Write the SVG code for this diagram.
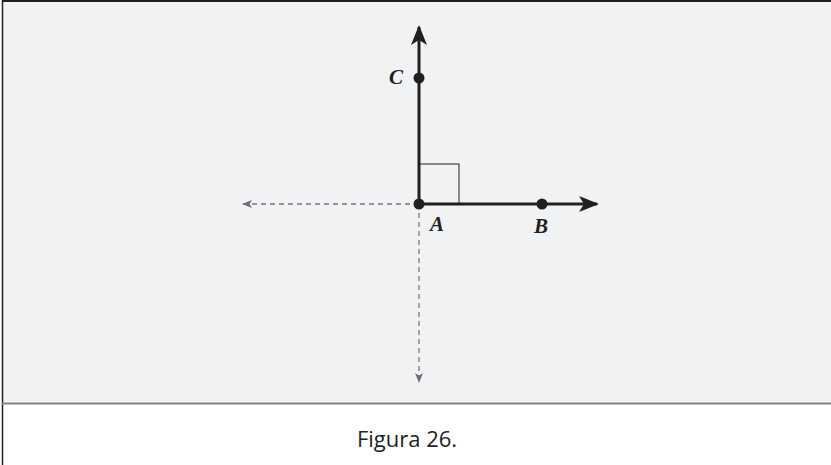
<svg xmlns="http://www.w3.org/2000/svg" width="831" height="465" viewBox="0 0 831 465">
<style>
.main{stroke:#231f20;stroke-width:3;fill:none}
.dash{stroke:#77787b;stroke-width:1.3;stroke-dasharray:5 4;fill:none}
.dot{fill:#231f20}
.lbl{font-family:"Liberation Serif",serif;font-style:italic;font-weight:bold;font-size:21px;fill:#231f20}
.cap{font-family:"Open Sans","Liberation Sans",sans-serif;font-size:22px;fill:#231f20}
</style>
<defs>
<marker id="ah" viewBox="0 0 20 16" refX="18" refY="8" markerWidth="20" markerHeight="16" markerUnits="userSpaceOnUse" orient="auto">
<path d="M0,0 L20,8 L0,16 L5,8 Z" fill="#231f20"/>
</marker>
<marker id="ahg" viewBox="0 0 10 8" refX="9" refY="4" markerWidth="10" markerHeight="8" markerUnits="userSpaceOnUse" orient="auto">
<path d="M0,0 L10,4 L0,8 L2.5,4 Z" fill="#6d6e71"/>
</marker>
</defs>
<rect x="0" y="0" width="831" height="465" fill="#ffffff"/>
<rect x="2" y="1" width="840" height="403" fill="#f1f2f4"/>
<line x1="2" y1="1" x2="831" y2="1" stroke="#231f20" stroke-width="2"/>
<line x1="2.5" y1="0" x2="2.5" y2="465" stroke="#231f20" stroke-width="1.5"/>
<line x1="2" y1="403.5" x2="831" y2="403.5" stroke="#808285" stroke-width="2"/>
<g id="connectors">
<line class="dash" x1="419" y1="204" x2="243" y2="204" marker-end="url(#ahg)"/>
<line class="dash" x1="419" y1="204" x2="419" y2="382" marker-end="url(#ahg)"/>
<line class="main" x1="419" y1="204" x2="597" y2="204" marker-end="url(#ah)"/>
<line class="main" x1="419" y1="204" x2="419" y2="27" marker-end="url(#ah)"/>
<rect x="419" y="164" width="40" height="40" fill="none" stroke="#231f20" stroke-width="1"/>
</g>
<g id="A"><circle class="dot" cx="419" cy="204" r="5.5"/><text class="lbl" x="437" y="231" text-anchor="middle">A</text></g>
<g id="B"><circle class="dot" cx="542" cy="204" r="5.5"/><text class="lbl" x="541" y="233" text-anchor="middle">B</text></g>
<g id="C"><circle class="dot" cx="419" cy="78" r="5.5"/><text class="lbl" x="396" y="84" text-anchor="middle">C</text></g>
<text class="cap" x="407" y="447" text-anchor="middle">Figura 26.</text>
</svg>
